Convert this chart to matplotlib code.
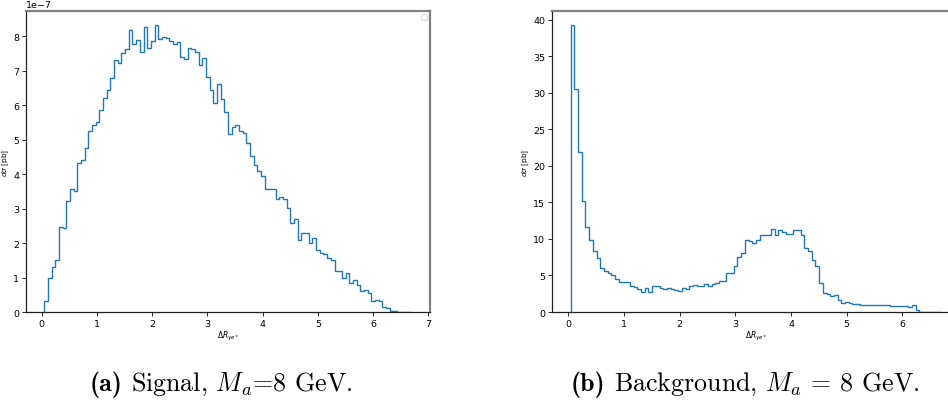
import numpy as np
import matplotlib
matplotlib.use("Agg")
from matplotlib import pyplot as plt
from matplotlib.offsetbox import TextArea, HPacker, AnchoredOffsetbox

# bin edges of both histograms (Delta R)
edges = np.linspace(0.045, 6.70, 101)

# signal, in units of 1e-7 pb
signal = [
    0.32, 1.00, 1.31, 1.52, 2.46, 2.44, 3.21, 3.57, 3.52, 4.31,
    4.42, 4.76, 5.26, 5.42, 5.50, 5.85, 6.19, 6.44, 6.78, 7.32,
    7.23, 7.52, 7.63, 8.18, 7.78, 7.89, 7.55, 8.25, 7.64, 7.86,
    8.31, 7.90, 7.97, 7.94, 7.86, 7.78, 7.83, 7.39, 7.33, 7.65,
    7.61, 7.54, 7.16, 7.37, 6.82, 6.43, 6.06, 6.60, 6.18, 5.79,
    5.16, 5.37, 5.42, 5.26, 5.20, 4.89, 4.52, 4.27, 4.09, 3.93,
    3.57, 3.57, 3.58, 3.27, 3.34, 3.29, 3.02, 2.59, 2.69, 2.10,
    2.29, 2.29, 2.01, 2.14, 1.80, 1.72, 1.69, 1.56, 1.52, 1.20,
    1.20, 1.00, 1.12, 0.85, 0.92, 0.79, 0.62, 0.64, 0.54, 0.33,
    0.34, 0.31, 0.16, 0.11, 0.03, 0.02, 0.01, 0.005, 0.0, 0.005,
]

# background, pb
background = [
    39.2, 30.5, 21.9, 15.2, 11.6, 9.9, 8.4, 7.4, 6.0, 5.6,
    5.4, 5.1, 4.5, 4.1, 4.1, 4.05, 3.6, 3.4, 3.2, 2.8,
    3.3, 2.8, 3.6, 3.5, 3.3, 3.1, 3.3, 3.1, 3.0, 2.9,
    3.3, 3.1, 3.5, 3.7, 3.6, 3.6, 3.9, 3.5, 3.8, 4.0,
    4.2, 4.3, 5.3, 5.3, 6.3, 7.5, 8.1, 9.9, 9.7, 9.4,
    9.8, 10.6, 10.6, 10.6, 11.3, 10.6, 11.2, 11.0, 10.7, 10.7,
    11.2, 11.2, 10.5, 8.8, 8.4, 7.1, 6.3, 4.0, 2.6, 2.4,
    2.2, 2.3, 1.7, 1.2, 1.4, 1.3, 1.15, 1.05, 1.0, 1.0,
    1.0, 1.0, 0.95, 0.95, 1.0, 0.9, 0.85, 0.85, 0.8, 0.85,
    0.85, 0.65, 1.0, 0.3, 0.02, 0.02, 0.02, 0.02, 0.02, 0.02,
]

cap_tags = ["(a)", "(b)"]
cap_texts = [r"Signal, $M_a$=8 GeV.", r"Background, $M_a$ = 8 GeV."]

fig = plt.figure(figsize=(9.48, 4.06), dpi=100)
ax_sig = fig.add_axes([0.0274, 0.229, 0.4262, 0.7414])
ax_bkg = fig.add_axes([0.5823, 0.229, 0.4304, 0.7414])

centers = 0.5 * (edges[:-1] + edges[1:])
ax_sig.hist(centers, bins=edges, weights=np.array(signal) * 1e-7,
            histtype="step", color="#1f77b4", lw=1.0)
ax_bkg.hist(centers, bins=edges, weights=background,
            histtype="step", color="#1f77b4", lw=1.0)

for ax in (ax_sig, ax_bkg):
    ax.set_xlabel(r"$\Delta R_{\gamma e^{\pm}}$", fontsize=5.5, labelpad=1,
                  math_fontfamily="dejavusans")
    ax.set_ylabel(r"$d\sigma$ [pb]", fontsize=5.3, labelpad=1.5,
                  math_fontfamily="dejavusans")
    ax.tick_params(labelsize=6.8, length=3, width=0.6, pad=2)
    ax.yaxis.get_offset_text().set_fontsize(6.8)
    for side in ("left", "bottom"):
        ax.spines[side].set_color("#222222")
        ax.spines[side].set_linewidth(0.9)
    for side in ("top", "right"):
        ax.spines[side].set_color("#808080")
        ax.spines[side].set_linewidth(1.6)
    leg = ax.legend(handles=[], loc="upper right", fontsize=5)
    leg.get_frame().set_alpha(0.6)

ax_sig.set_xticks(range(0, 8))
# tick 7 of the right panel falls outside the cropped figure
ax_bkg.set_xticks(range(0, 7))
ax_bkg.set_yticks(range(0, 41, 5))

# captions: bold tag + roman text, computer modern
for x, tag, txt in zip([0.233, 0.786], cap_tags, cap_texts):
    bold = TextArea(tag, textprops=dict(family="cmb10", fontsize=18.7))
    rest = TextArea(txt, textprops=dict(family="cmr10", fontsize=18.7,
                                        math_fontfamily="cm"))
    box = HPacker(children=[bold, rest], sep=6, pad=0, align="baseline")
    anchored = AnchoredOffsetbox(loc="center", child=box, pad=0, borderpad=0,
                                 frameon=False, bbox_to_anchor=(x, 0.054),
                                 bbox_transform=fig.transFigure)
    fig.add_artist(anchored)

fig.savefig("out.png", dpi=100)
